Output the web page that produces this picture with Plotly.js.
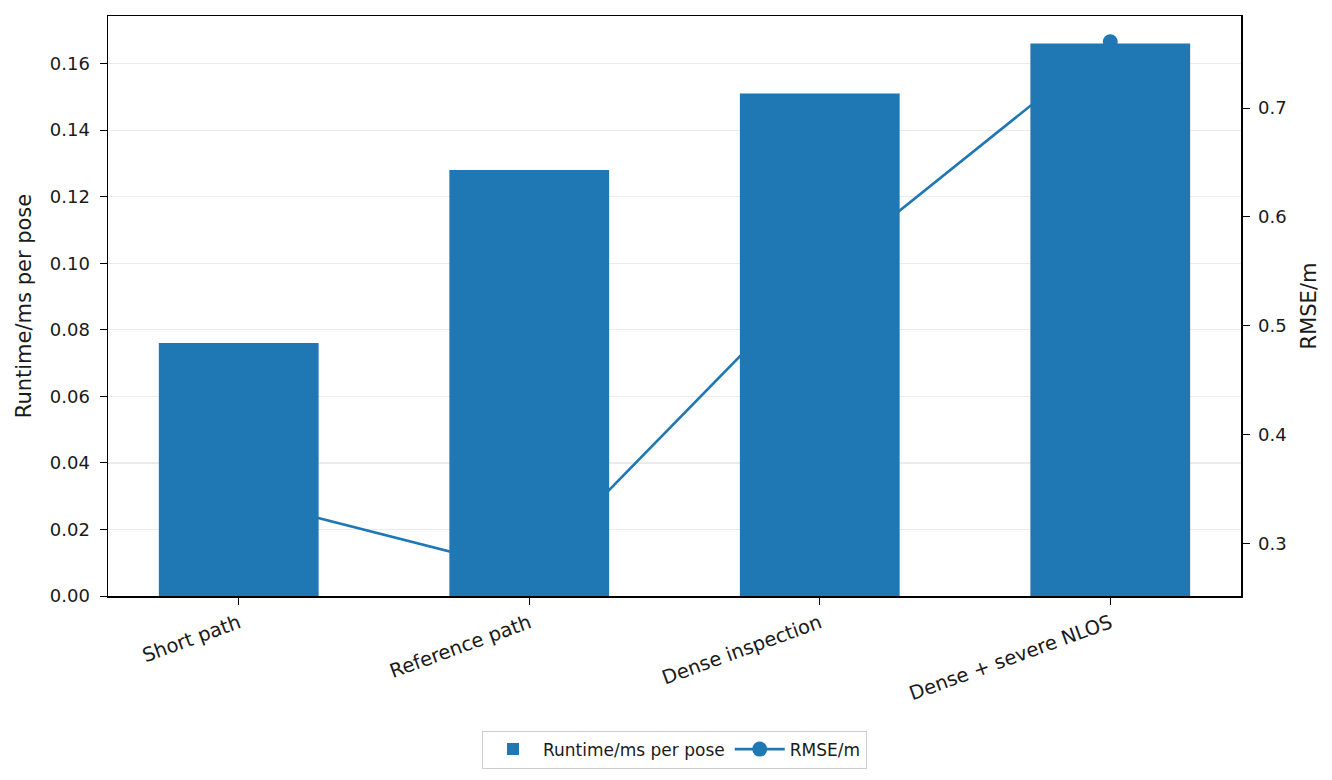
<!DOCTYPE html>
<html>
<head>
<meta charset="utf-8">
<script src="https://cdn.plot.ly/plotly-3.0.1.min.js"></script>
<style>
  html, body { margin: 0; padding: 0; background: #fff; }
  #chart { width: 1332px; height: 780px; }
</style>
</head>
<body>
<div id="chart"></div>
<script>
'use strict';

// scenarios along the x axis
const scenarios = ['Short path', 'Reference path', 'Dense inspection', 'Dense + severe NLOS'];
// bars, left axis
const runtimeMs = [0.076, 0.128, 0.151, 0.166];
// line, right axis
const rmseM = [0.342, 0.274, 0.547, 0.761];

const blue = '#1f77b4';
const font = 'DejaVu Sans, sans-serif';

// bars sit on the overlaying axis so they are drawn above the line
let bars = {
    type: 'bar',
    x: scenarios,
    y: runtimeMs,
    yaxis: 'y2',
    width: 0.55,
    marker: {color: blue, line: {width: 0}},
    name: 'Runtime/ms per pose'
};
let line = {
    type: 'scatter',
    mode: 'lines+markers',
    x: scenarios,
    y: rmseM,
    yaxis: 'y',
    line: {color: blue, width: 2.6},
    marker: {color: blue, size: 15},
    name: 'RMSE/m'
};

let layout = {
    width: 1332,
    height: 780,
    margin: {l: 108, r: 91, t: 16, b: 179},
    paper_bgcolor: '#fff',
    plot_bgcolor: '#fff',
    font: {family: font, size: 18, color: '#1a1a1a'},
    showlegend: true,
    legend: {
        orientation: 'h',
        x: 0.5, xanchor: 'center',
        y: -0.232, yanchor: 'top',
        bordercolor: '#cccccc', borderwidth: 1,
        font: {size: 17},
        itemwidth: 50,
        traceorder: 'normal'
    },
    xaxis: {
        range: [-0.45, 3.45],
        showline: true, mirror: true, linecolor: '#000', linewidth: 1.5,
        ticks: 'outside', ticklen: 7, tickcolor: '#000',
        tickangle: -20,
        showgrid: false, zeroline: false,
        tickfont: {size: 19.5}
    },
    yaxis: {
        side: 'right',
        range: [0.2517, 0.7847],
        tickvals: [0.3, 0.4, 0.5, 0.6, 0.7],
        tickformat: '.1f',
        showline: true, linecolor: '#000', linewidth: 1.5,
        ticks: 'outside', ticklen: 7, tickcolor: '#000',
        ticklabelstandoff: 5,
        showgrid: false, zeroline: false,
        tickfont: {size: 18},
        title: {text: 'RMSE/m', font: {size: 21}, standoff: 15}
    },
    yaxis2: {
        overlaying: 'y',
        side: 'left',
        range: [0, 0.1743],
        tickvals: [0, 0.02, 0.04, 0.06, 0.08, 0.10, 0.12, 0.14, 0.16],
        tickformat: '.2f',
        showline: true, linecolor: '#000', linewidth: 1.5,
        ticks: 'outside', ticklen: 7, tickcolor: '#000',
        ticklabelstandoff: 6,
        showgrid: true, gridcolor: '#ebebeb', gridwidth: 1.2,
        zeroline: false,
        tickfont: {size: 18},
        title: {text: 'Runtime/ms per pose', font: {size: 21}, standoff: 12}
    }
};

Plotly.newPlot('chart', [bars, line], layout, {displayModeBar: false, staticPlot: true});
</script>
</body>
</html>
